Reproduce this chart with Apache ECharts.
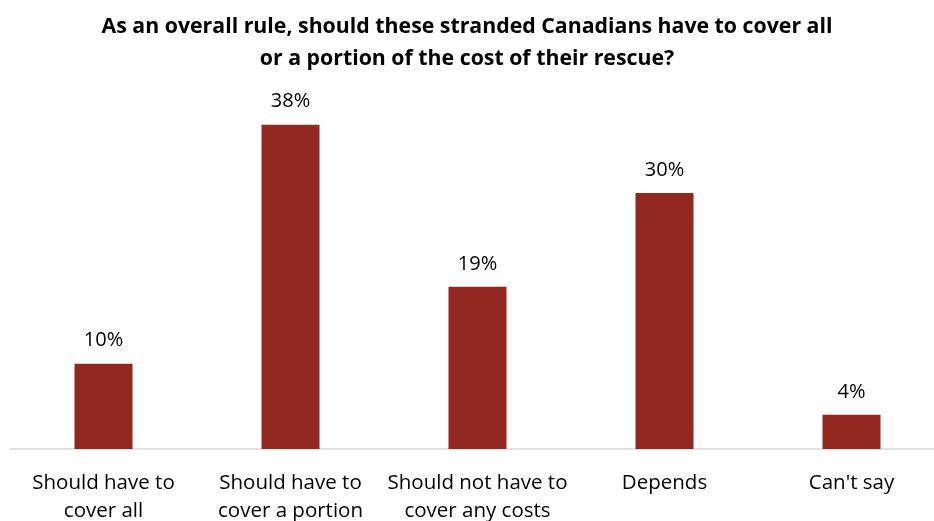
<!DOCTYPE html>
<html><head><meta charset="utf-8">
<script src="https://cdn.jsdelivr.net/npm/echarts@6/dist/echarts.min.js"></script>
<style>html,body{margin:0;padding:0;background:#fff}#c{width:934px;height:521px}</style>
</head><body><div id="c"></div>
<script>
const categories = ["Should have to\ncover all", "Should have to\ncover a portion", "Should not have to\ncover any costs", "Depends", "Can't say"];
const values = [10, 38, 19, 30, 4];
const titleText = "As an overall rule, should these stranded Canadians have to cover all\nor a portion of the cost of their rescue?";
const chart = echarts.init(document.getElementById('c'));
chart.setOption({
  animation: false,
  title: {
    text: titleText, left: 'center', top: 6,
    textStyle: {fontFamily: 'Open Sans', fontWeight: 'bold', fontSize: 21.3, lineHeight: 32, color: '#000'}
  },
  grid: {left: 10, width: 935, top: 65, bottom: 72, containLabel: false, outerBoundsMode: 'none'},
  xAxis: {
    type: 'category', data: categories,
    axisLine: {lineStyle: {color: '#d9d9d9', width: 1.5}},
    axisTick: {show: false},
    axisLabel: {fontFamily: 'Open Sans', fontSize: 20.5, color: '#000', margin: 20, lineHeight: 28, interval: 0}
  },
  yAxis: {type: 'value', min: 0, max: 45, show: false, splitLine: {show: false}},
  series: [{
    type: 'bar', data: values, barWidth: 58,
    itemStyle: {color: '#922821'},
    label: {show: true, position: 'top', distance: 13, formatter: '{c}%', fontFamily: 'Open Sans', fontSize: 20, color: '#000'}
  }]
});
</script></body></html>
